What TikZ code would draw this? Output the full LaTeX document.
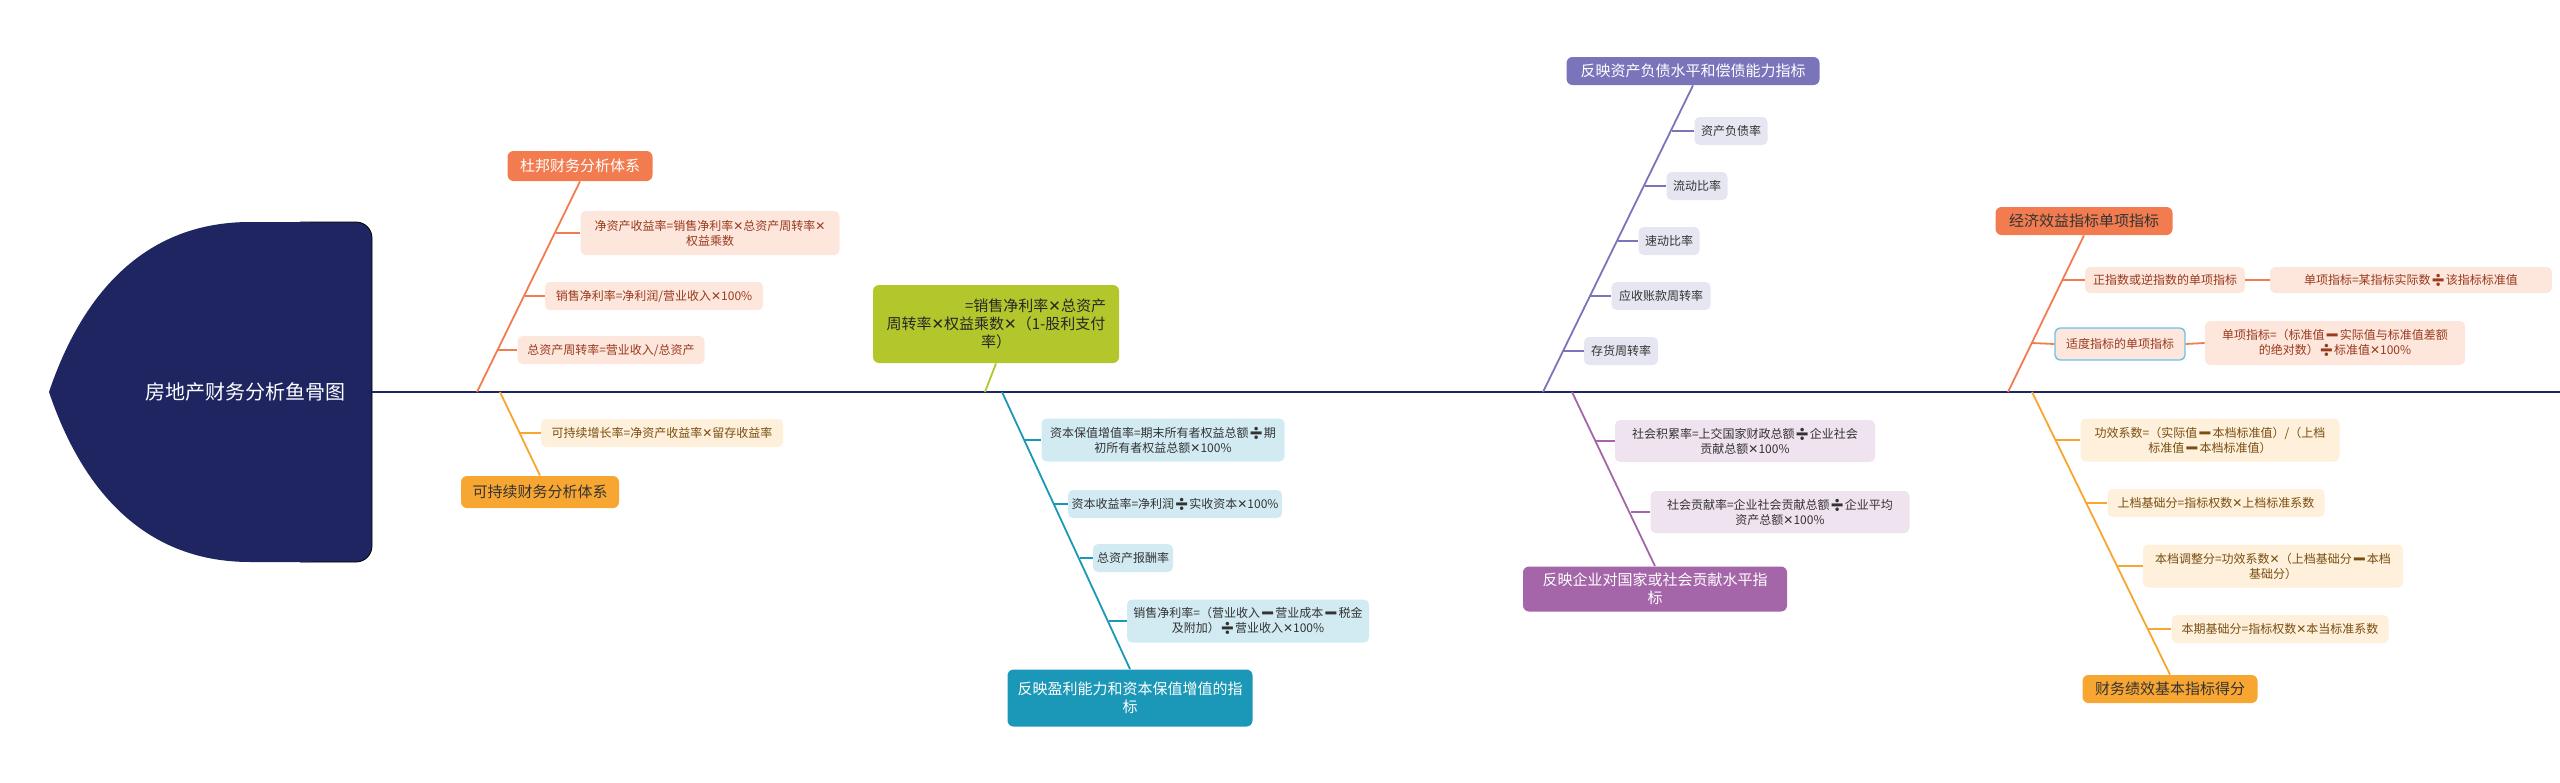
\documentclass[tikz,border=0pt]{standalone}
\usepackage{fontspec}
\setmainfont{Noto Sans CJK SC}
\newfontfamily\symfont{DejaVu Sans}
\newfontfamily\emofont{Noto Emoji}
\newcommand\tms{{\symfont ✕}}
\newcommand\dvd{{\emofont ➗}}
\newcommand\mns{{\emofont ➖}}
\usetikzlibrary{calc}
\definecolor{navy}{HTML}{1E2561}
\definecolor{dorange}{HTML}{F27C50}\definecolor{dfill}{HTML}{FDE6DC}
\definecolor{dtext}{HTML}{9A3A1E}
\definecolor{syellow}{HTML}{F8A632}\definecolor{sfill}{HTML}{FEF0DA}
\definecolor{stext}{HTML}{7A4E12}
\definecolor{lgreen}{HTML}{B3C72C}
\definecolor{teal}{HTML}{1B97B8}\definecolor{tfill}{HTML}{D2EBF3}
\definecolor{pviolet}{HTML}{7A74BA}\definecolor{pfill}{HTML}{E6E6F2}
\definecolor{mviolet}{HTML}{A466A9}\definecolor{mfill}{HTML}{F0E3F0}
\definecolor{lblue}{HTML}{6EC1E4}
\tikzset{
  head/.style={fill=#1, text=white, rounded corners=3pt, inner sep=0pt, align=center,
    font=\fontsize{7.5}{9}\selectfont},
  leaf/.style={fill=#1, rounded corners=2.5pt, inner sep=0pt, align=center,
    minimum height=14pt, font=\fontsize{6}{7.5}\selectfont},
  bone/.style={draw=#1, line width=0.9pt},
}
\begin{document}
\begin{tikzpicture}[x=0.5pt, y=-0.5pt]
\useasboundingbox (0,0) rectangle (2560,782);
% fish head and spine
\draw[fill=navy, rounded corners=8pt] (300,222) -- (372,222) -- (372,562) -- (300,562);
\fill[navy] (310,562) -- (250,562) .. controls (140,562) and (80,484) .. (49,392)
  .. controls (80,300) and (140,222) .. (250,222) -- (310,222) -- cycle;
\node[text=white, font=\fontsize{10}{12}\selectfont] (title) at (245,392) {房地产财务分析鱼骨图};
\coordinate (tail) at (2560,392);
\draw[navy, line width=1.2pt] (372,392) -- (tail);

% dupont
\node[head=dorange, minimum width=72.5pt, minimum height=15pt] (dupont) at (580,166) {杜邦财务分析体系};
\coordinate (dupontS) at (477,392);
\draw[bone=dorange] (dupont.south) -- (dupontS);
\node[leaf=dfill, text=dtext, minimum width=129.5pt, minimum height=22pt] (d1) at (710,233) {净资产收益率=销售净利率\tms 总资产周转率\tms\\权益乘数};
\node[leaf=dfill, text=dtext, minimum width=109pt] (d2) at (654,296) {销售净利率=净利润/营业收入\tms 100\%};
\node[leaf=dfill, text=dtext, minimum width=93.5pt] (d3) at (611,350) {总资产周转率=营业收入/总资产};
\coordinate (dk1) at (556,233);
\coordinate (dk2) at (525,296);
\coordinate (dk3) at (498,350);
\foreach \i in {1,2,3} \draw[bone=dorange] (dk\i) -- (d\i.west);

% sustainable
\node[head=syellow, text=black!80, minimum width=79pt, minimum height=16pt] (sustain) at (540,492) {可持续财务分析体系};
\coordinate (sustainS) at (500,392);
\draw[bone=syellow] (sustainS) -- (sustain.north);
\node[leaf=sfill, text=stext, minimum width=121pt] (s1) at (662,433) {可持续增长率=净资产收益率\tms 留存收益率};
\coordinate (sk1) at (520,433);
\draw[bone=syellow] (sk1) -- (s1.west);

% green formula
\node[head=lgreen, text=black!85, minimum width=123pt, minimum height=39pt, text width=110pt] (green) at (996,324) {\hfill =销售净利率\tms 总资产\\周转率\tms 权益乘数\tms（1-股利支付\\率）};
\coordinate (greenS) at (985,392);
\draw[bone=lgreen] (green.south) -- (greenS);

% profitability
\node[head=teal, minimum width=122.5pt, minimum height=28.5pt] (profit) at (1130,698) {反映盈利能力和资本保值增值的指\\标};
\coordinate (profitS) at (1002,392);
\draw[bone=teal] (profitS) -- (profit.north);
\node[leaf=tfill, text=black!80, minimum width=121.5pt, minimum height=21.5pt] (t1) at (1163,440) {资本保值增值率=期末所有者权益总额\dvd 期\\初所有者权益总额\tms 100\%};
\node[leaf=tfill, text=black!80, minimum width=107pt] (t2) at (1175,504) {资本收益率=净利润\dvd 实收资本\tms 100\%};
\node[leaf=tfill, text=black!80, minimum width=40pt] (t3) at (1133,558) {总资产报酬率};
\node[leaf=tfill, text=black!80, minimum width=121pt, minimum height=21.5pt] (t4) at (1248,621) {销售净利率=（营业收入\mns 营业成本\mns 税金\\及附加）\dvd 营业收入\tms 100\%};
\coordinate (tk1) at (1024,440);
\coordinate (tk2) at (1054,504);
\coordinate (tk3) at (1080,558);
\coordinate (tk4) at (1109,621);
\foreach \i in {1,...,4} \draw[bone=teal] (tk\i) -- (t\i.west);

% solvency
\node[head=pviolet, minimum width=126.5pt, minimum height=14pt] (debt) at (1693,71) {反映资产负债水平和偿债能力指标};
\coordinate (debtS) at (1543,392);
\draw[bone=pviolet] (debt.south) -- (debtS);
\node[leaf=pfill, text=black!80, minimum width=36.5pt] (p1) at (1731,131) {资产负债率};
\node[leaf=pfill, text=black!80, minimum width=30.5pt] (p2) at (1697,186) {流动比率};
\node[leaf=pfill, text=black!80, minimum width=30.5pt] (p3) at (1669,241) {速动比率};
\node[leaf=pfill, text=black!80, minimum width=49.5pt] (p4) at (1661,296) {应收账款周转率};
\node[leaf=pfill, text=black!80, minimum width=37pt] (p5) at (1621,351) {存货周转率};
\coordinate (pk1) at (1672,131);
\coordinate (pk2) at (1645,186);
\coordinate (pk3) at (1618,241);
\coordinate (pk4) at (1590,296);
\coordinate (pk5) at (1563,351);
\foreach \i in {1,...,5} \draw[bone=pviolet] (pk\i) -- (p\i.west);

% contribution
\node[head=mviolet, minimum width=132pt, minimum height=22.5pt] (social) at (1655,589) {反映企业对国家或社会贡献水平指\\标};
\coordinate (socialS) at (1572,392);
\draw[bone=mviolet] (socialS) -- (social.north);
\node[leaf=mfill, text=black!80, minimum width=130pt, minimum height=21pt] (v1) at (1745,441) {社会积累率=上交国家财政总额\dvd 企业社会\\贡献总额\tms 100\%};
\node[leaf=mfill, text=black!80, minimum width=129.5pt, minimum height=21pt] (v2) at (1780,512) {社会贡献率=企业社会贡献总额\dvd 企业平均\\资产总额\tms 100\%};
\coordinate (vk1) at (1596,441);
\coordinate (vk2) at (1631,512);
\foreach \i in {1,2} \draw[bone=mviolet] (vk\i) -- (v\i.west);

% single indicators
\node[head=dorange, text=black!80, minimum width=88.5pt, minimum height=14pt] (single) at (2084,221) {经济效益指标单项指标};
\coordinate (singleS) at (2008,392);
\draw[bone=dorange] (single.south) -- (singleS);
\node[leaf=dfill, text=dtext, minimum width=80pt, minimum height=13pt] (r1) at (2165,280) {正指数或逆指数的单项指标};
\node[leaf=dfill, text=dtext, minimum width=141pt, minimum height=13pt] (r1b) at (2411,280) {单项指标=某指标实际数\dvd 该指标标准值};
\node[leaf=dfill, text=dtext, minimum width=65pt, minimum height=16pt, draw=lblue, line width=0.7pt] (r2) at (2120,344) {适度指标的单项指标};
\node[leaf=dfill, text=dtext, minimum width=130pt, minimum height=22pt] (r2b) at (2335,343) {单项指标=（标准值\mns 实际值与标准值差额\\的绝对数）\dvd 标准值\tms 100\%};
\coordinate (rk1) at (2063,280);
\coordinate (rk2) at (2032,343);
\foreach \i in {1,2} {
  \draw[bone=dorange] (rk\i) -- (r\i.west);
  \draw[bone=dorange] (r\i.east) -- (r\i b.west);
}

% performance score
\node[head=syellow, text=black!80, minimum width=87.5pt, minimum height=14pt] (score) at (2170,689) {财务绩效基本指标得分};
\coordinate (scoreS) at (2032,392);
\draw[bone=syellow] (scoreS) -- (score.north);
\node[leaf=sfill, text=stext, minimum width=129.5pt, minimum height=21.5pt] (y1) at (2210,440) {功效系数=（实际值\mns 本档标准值）/（上档\\标准值\mns 本档标准值）};
\node[leaf=sfill, text=stext, minimum width=108.5pt] (y2) at (2216,503) {上档基础分=指标权数\tms 上档标准系数};
\node[leaf=sfill, text=stext, minimum width=130pt, minimum height=21.5pt] (y3) at (2273,566) {本档调整分=功效系数\tms（上档基础分\mns 本档\\基础分）};
\node[leaf=sfill, text=stext, minimum width=108.5pt] (y4) at (2280,629) {本期基础分=指标权数\tms 本当标准系数};
\coordinate (yk1) at (2055,440);
\coordinate (yk2) at (2086,503);
\coordinate (yk3) at (2117,566);
\coordinate (yk4) at (2148,629);
\foreach \i in {1,...,4} \draw[bone=syellow] (yk\i) -- (y\i.west);
\end{tikzpicture}
\end{document}
